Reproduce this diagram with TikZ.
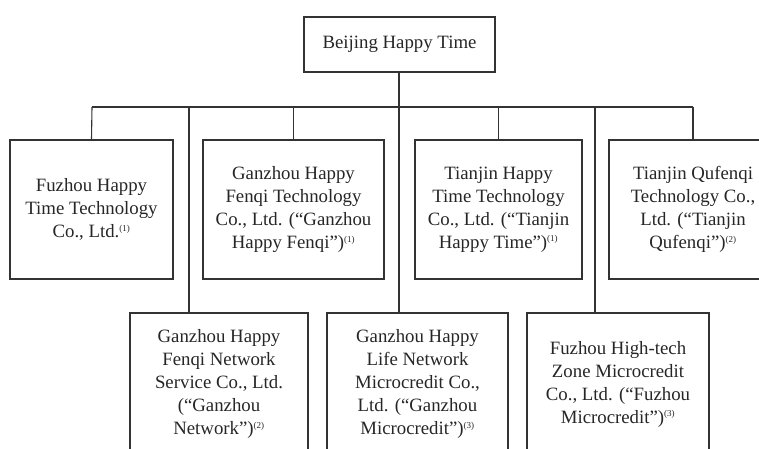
\documentclass[tikz,border=0pt]{standalone}
\usepackage{fontspec}
\setmainfont{Liberation Serif}
\usetikzlibrary{positioning,calc}
\newcommand{\fnmark}[1]{\textsuperscript{\fontsize{9}{9}\selectfont(#1)}}

\begin{document}
\begin{tikzpicture}[x=1pt, y=-1pt,
    entity/.style={draw=black!80, line width=1.1pt, rectangle, align=center, inner sep=0pt,
        font=\fontsize{18.8}{23}\selectfont, text=black!85},
    link/.style={draw=black!80, line width=1.1pt}]
    \useasboundingbox (0,0) rectangle (759,448);
    \clip (0,0) rectangle (759,448);

    \node[entity, minimum width=191pt, minimum height=55pt] (beijing) at (399.5,44.5) {Beijing Happy Time};

    \node[entity, minimum width=163pt, minimum height=139pt] (fuzhou) at (91.5,209.5)
        {Fuzhou Happy\\Time Technology\\Co., Ltd.\fnmark{1}};
    \node[entity, minimum width=181pt, minimum height=139pt] (fenqi) at (293.5,209.5)
        {Ganzhou Happy\\Fenqi Technology\\Co., Ltd. (“Ganzhou\\Happy Fenqi”)\fnmark{1}};
    \node[entity, minimum width=167pt, minimum height=139pt] (tjhappy) at (498.5,209.5)
        {Tianjin Happy\\Time Technology\\Co., Ltd. (“Tianjin\\Happy Time”)\fnmark{1}};
    \node[entity, minimum width=168pt, minimum height=139pt] (qufenqi) at (693,209.5)
        {Tianjin Qufenqi\\Technology Co.,\\Ltd. (“Tianjin\\Qufenqi”)\fnmark{2}};

    \node[entity, minimum width=178pt, minimum height=142pt] (network) at (219,384)
        {Ganzhou Happy\\Fenqi Network\\Service Co., Ltd.\\(“Ganzhou\\Network”)\fnmark{2}};
    \node[entity, minimum width=181pt, minimum height=142pt] (gzmicro) at (417.5,384)
        {Ganzhou Happy\\Life Network\\Microcredit Co.,\\Ltd. (“Ganzhou\\Microcredit”)\fnmark{3}};
    \node[entity, minimum width=182pt, minimum height=142pt] (fzmicro) at (618,384)
        {Fuzhou High-tech\\Zone Microcredit\\Co., Ltd. (“Fuzhou\\Microcredit”)\fnmark{3}};

    \coordinate (busL) at (92,107);
    \coordinate (busR) at (693,107);
    \coordinate (dropA) at (189,107);
    \coordinate (dropB) at (399,107);
    \coordinate (dropC) at (595,107);

    \draw[link] (busL) -- (busR);
    \draw[link] (beijing.south -| dropB) -- (dropB |- gzmicro.north);
    \draw[link] (busL) -- (fuzhou.north);
    \draw[link] (fenqi.north |- busL) -- (fenqi.north);
    \draw[link] (tjhappy.north |- busL) -- (tjhappy.north);
    \draw[link] (busR) -- (qufenqi.north);
    \draw[link] (dropA) -- (dropA |- network.north);
    \draw[link] (dropC) -- (dropC |- fzmicro.north);
\end{tikzpicture}
\end{document}
